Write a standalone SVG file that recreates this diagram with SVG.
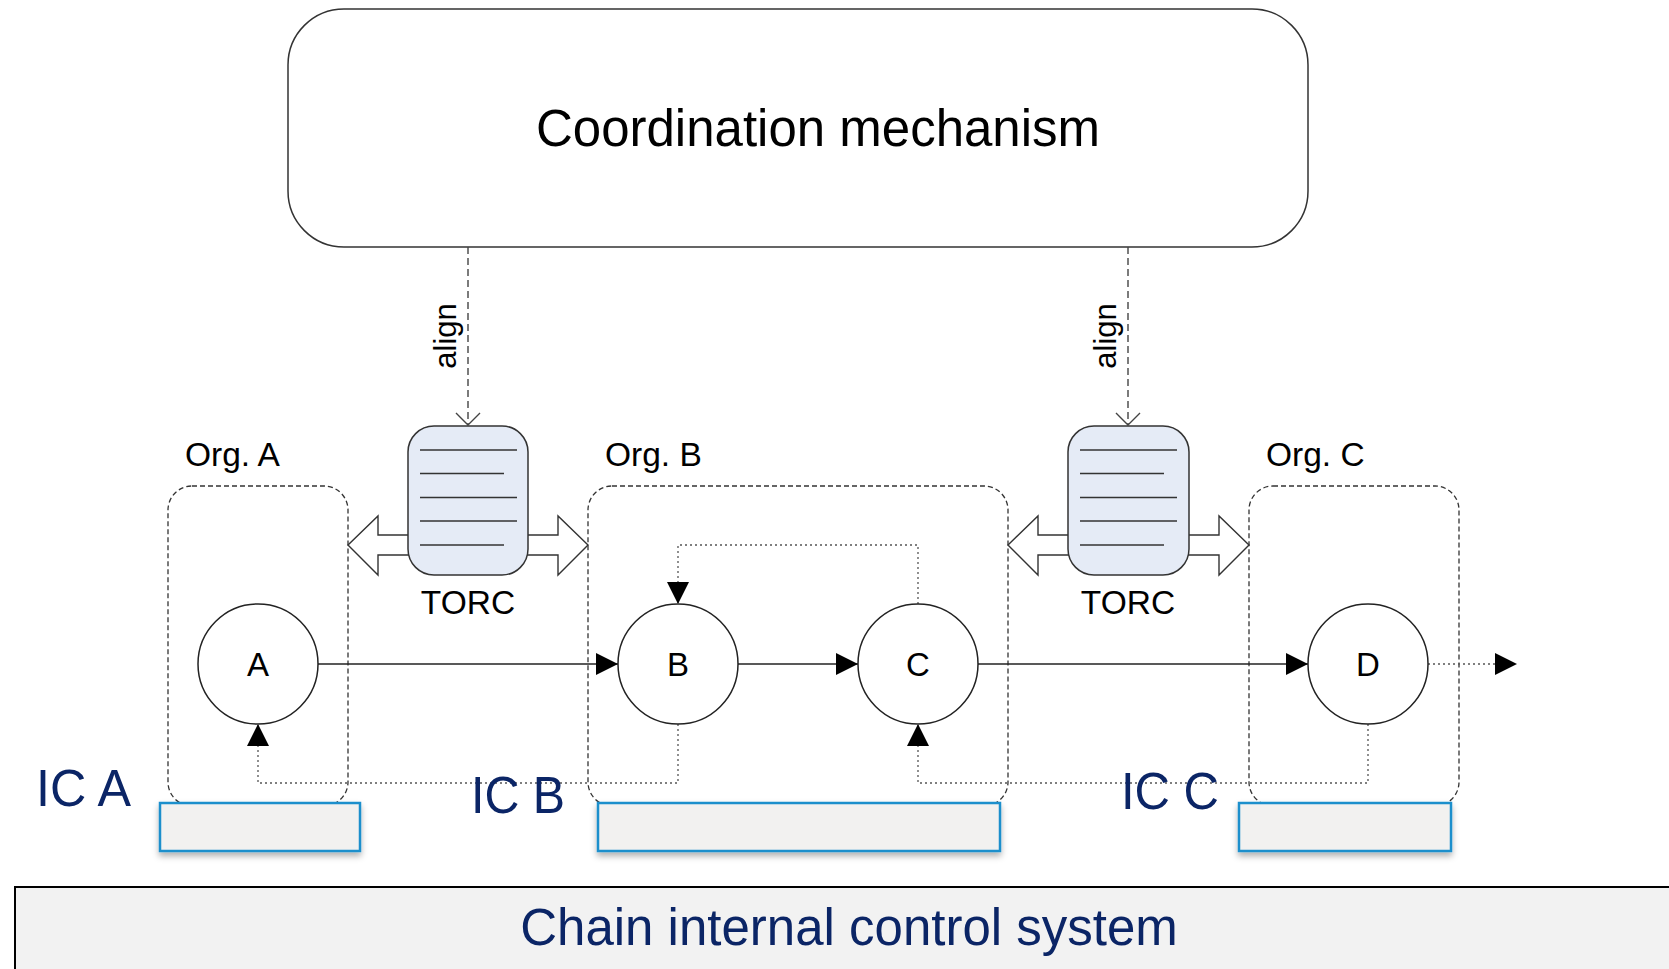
<svg xmlns="http://www.w3.org/2000/svg" width="1669" height="969" viewBox="0 0 1669 969">
<style>
  .lbl { font-family: "Liberation Sans", Arial, sans-serif; fill: #000; }
  .ic { font-family: "Liberation Sans", Arial, sans-serif; fill: #0B2566; }
  .org { fill: none; stroke: #333; stroke-width: 1.3; stroke-dasharray: 5 3; }
  .flow { fill: none; stroke: #222; stroke-width: 1.5; }
  .fb { fill: none; stroke: #555; stroke-width: 1.3; stroke-dasharray: 2 3; }
  .aln { fill: none; stroke: #444; stroke-width: 1.4; stroke-dasharray: 7 4; }
  .blk { fill: #fff; stroke: #333; stroke-width: 1.4; }
  .torc { fill: #E5EBF6; stroke: #333; stroke-width: 1.5; }
  .tl { stroke: #333; stroke-width: 1.5; }
  .circ { fill: #fff; stroke: #222; stroke-width: 1.5; }
  .icr { fill: #F2F1F0; stroke: #1A8FCC; stroke-width: 2.5; filter: url(#sh); }
</style>
<defs>
  <marker id="tri" viewBox="0 0 22 22" refX="22" refY="11" markerWidth="22" markerHeight="22" markerUnits="userSpaceOnUse" orient="auto">
    <path d="M0,0 L22,11 L0,22 Z" fill="#000"/>
  </marker>
  <marker id="vee" viewBox="0 0 14 26" refX="13" refY="13" markerWidth="14" markerHeight="26" markerUnits="userSpaceOnUse" orient="auto">
    <path d="M1,1 L13,13 L1,25" fill="none" stroke="#444" stroke-width="1.4"/>
  </marker>
  <filter id="sh" x="-10%" y="-30%" width="120%" height="170%">
    <feDropShadow dx="0" dy="4" stdDeviation="3" flood-color="#000" flood-opacity="0.3"/>
  </filter>
</defs>
<rect x="0" y="0" width="1669" height="969" fill="#fff"/>

<g id="coordination">
  <rect x="288" y="9" width="1020" height="238" rx="56" ry="56" fill="#fff" stroke="#333" stroke-width="1.5"/>
  <text class="lbl" x="818" y="146" font-size="51" text-anchor="middle">Coordination mechanism</text>
</g>

<g id="orgA">
  <rect class="org" x="168" y="486" width="180" height="320" rx="24"/>
  <text class="lbl" x="185" y="466" font-size="33.5">Org. A</text>
</g>
<g id="orgB">
  <rect class="org" x="588" y="486" width="420" height="320" rx="24"/>
  <text class="lbl" x="605" y="466" font-size="33.5">Org. B</text>
</g>
<g id="orgC">
  <rect class="org" x="1249" y="486" width="210" height="320" rx="24"/>
  <text class="lbl" x="1266" y="466" font-size="33.5">Org. C</text>
</g>

<g id="connectors">
  <path class="aln" d="M468,247 V425" marker-end="url(#vee)"/>
  <path class="aln" d="M1128,247 V425" marker-end="url(#vee)"/>
  <text class="lbl" font-size="31" transform="translate(456,336) rotate(-90)" text-anchor="middle">align</text>
  <text class="lbl" font-size="31" transform="translate(1116,336) rotate(-90)" text-anchor="middle">align</text>

  <polygon class="blk" points="410,535 378,535 378,516 348,545 378,575 378,555 410,555"/>
  <polygon class="blk" points="526,535 558,535 558,516 588,545 558,575 558,555 526,555"/>
  <polygon class="blk" points="1070,535 1038,535 1038,516 1008,545 1038,575 1038,555 1070,555"/>
  <polygon class="blk" points="1187,535 1219,535 1219,516 1249,545 1219,575 1219,555 1187,555"/>

  <path class="flow" d="M318,664 H618" marker-end="url(#tri)"/>
  <path class="flow" d="M738,664 H858" marker-end="url(#tri)"/>
  <path class="flow" d="M978,664 H1308" marker-end="url(#tri)"/>
  <path class="fb" d="M1428,664 H1517" marker-end="url(#tri)"/>

  <path class="fb" d="M678,724 V783 H258 V724" marker-end="url(#tri)"/>
  <path class="fb" d="M918,604 V545 H678 V604" marker-end="url(#tri)"/>
  <path class="fb" d="M1368,724 V783 H918 V724" marker-end="url(#tri)"/>
</g>

<g id="torc1">
  <rect class="torc" x="408" y="426" width="120" height="149" rx="26"/>
  <line class="tl" x1="420" y1="450" x2="517" y2="450"/>
  <line class="tl" x1="420" y1="473.5" x2="504" y2="473.5"/>
  <line class="tl" x1="420" y1="497.5" x2="517" y2="497.5"/>
  <line class="tl" x1="420" y1="521" x2="517" y2="521"/>
  <line class="tl" x1="420" y1="545" x2="504" y2="545"/>
  <text class="lbl" x="468" y="614" font-size="33.5" text-anchor="middle">TORC</text>
</g>
<g id="torc2">
  <rect class="torc" x="1068" y="426" width="121" height="149" rx="26"/>
  <line class="tl" x1="1080" y1="450" x2="1177" y2="450"/>
  <line class="tl" x1="1080" y1="473.5" x2="1164" y2="473.5"/>
  <line class="tl" x1="1080" y1="497.5" x2="1177" y2="497.5"/>
  <line class="tl" x1="1080" y1="521" x2="1177" y2="521"/>
  <line class="tl" x1="1080" y1="545" x2="1164" y2="545"/>
  <text class="lbl" x="1128" y="614" font-size="33.5" text-anchor="middle">TORC</text>
</g>

<g id="nodeA">
  <circle class="circ" cx="258" cy="664" r="60"/>
  <text class="lbl" x="258" y="676" font-size="33" text-anchor="middle">A</text>
</g>
<g id="nodeB">
  <circle class="circ" cx="678" cy="664" r="60"/>
  <text class="lbl" x="678" y="676" font-size="33" text-anchor="middle">B</text>
</g>
<g id="nodeC">
  <circle class="circ" cx="918" cy="664" r="60"/>
  <text class="lbl" x="918" y="676" font-size="33" text-anchor="middle">C</text>
</g>
<g id="nodeD">
  <circle class="circ" cx="1368" cy="664" r="60"/>
  <text class="lbl" x="1368" y="676" font-size="33" text-anchor="middle">D</text>
</g>

<g id="icA">
  <rect class="icr" x="160" y="803" width="200" height="48"/>
  <text class="ic" x="36" y="806" font-size="52" textLength="95" lengthAdjust="spacingAndGlyphs">IC A</text>
</g>
<g id="icB">
  <rect class="icr" x="598" y="803" width="402" height="48"/>
  <text class="ic" x="471" y="813" font-size="52" textLength="94" lengthAdjust="spacingAndGlyphs">IC B</text>
</g>
<g id="icC">
  <rect class="icr" x="1239" y="803" width="212" height="48"/>
  <text class="ic" x="1121" y="809" font-size="52" textLength="98" lengthAdjust="spacingAndGlyphs">IC C</text>
</g>

<g id="chain">
  <rect x="15" y="887" width="1670" height="100" fill="#F2F2F2" stroke="#000" stroke-width="2"/>
  <text class="ic" x="849" y="945" font-size="51" text-anchor="middle">Chain internal control system</text>
</g>
</svg>
